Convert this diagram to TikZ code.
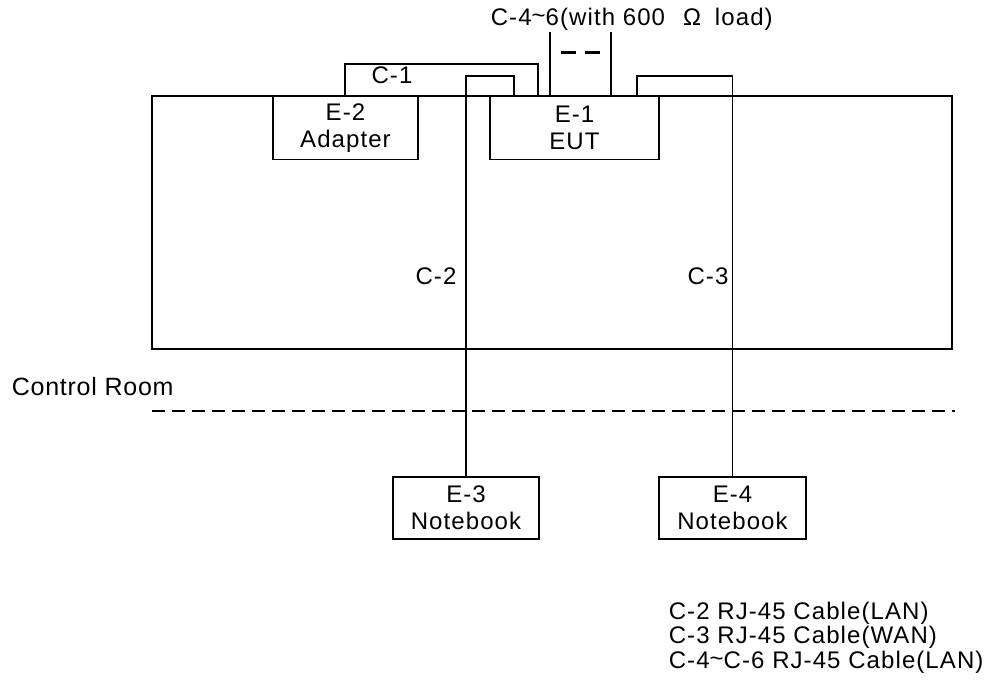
\documentclass[tikz,border=0pt]{standalone}
\usepackage{fontspec}
\setmainfont{Liberation Sans}[LetterSpace=4.5]
\newfontfamily\plainfont{Liberation Sans}[LetterSpace=3]
\begin{document}
\begin{tikzpicture}[x=0.5pt,y=-0.5pt,
  line width=0.85pt,
  box/.style={draw,minimum height=31.5pt,inner sep=0pt,align=center,font=\fontsize{12}{13.5}\selectfont},
  lbl/.style={inner sep=0pt,font=\fontsize{12}{13.5}\selectfont},
  cable/.style={line width=0.85pt}]
\useasboundingbox (0,0) rectangle (1007,686);
\node[draw,minimum width=400pt,minimum height=126.5pt,inner sep=0pt] (room) at (552,222.5) {};
\node[box,minimum width=72.5pt] (e2) at (345.5,128) {E-2\\Adapter};
\node[box,minimum width=84.5pt] (e1) at (574.5,128) {E-1\\EUT};
\node[box,minimum width=73pt,minimum height=31pt] (e3) at (466,508) {E-3\\Notebook};
\node[box,minimum width=73.5pt,minimum height=31pt] (e4) at (732.5,508) {E-4\\Notebook};
\node[lbl,anchor=west] (top) at (490,19) {C-4\raisebox{0.1ex}{\char`~}6(with 600\hspace{9pt}Ω\hspace{7pt}load)};
\node[lbl] (c1) at (392,75) {C-1};
\node[lbl] (c2) at (436,276) {C-2};
\node[lbl] (c3) at (708,276) {C-3};
\node[inner sep=0pt,anchor=west,font=\plainfont\fontsize{12.5}{13}\selectfont] (cr) at (11,387) {Control Room};
\node[lbl,anchor=north west,align=left,font=\fontsize{12}{12.25}\selectfont] (legend) at (668,601)
  {C-2 RJ-45 Cable(LAN)\\C-3 RJ-45 Cable(WAN)\\C-4\raisebox{0.1ex}{\char`~}C-6 RJ-45 Cable(LAN)};
% C-1
\draw[cable] ([xshift=36.5pt]e2.north west) |- ([xshift=24.5pt,yshift=16pt]e1.north west) -- ([xshift=24.5pt]e1.north west);
% C-2
\draw[cable] ([xshift=12.5pt]e1.north west) -- ++(0,-20) -| (e3.north);
% C-3
\draw[cable] ([xshift=-11.5pt]e1.north east) -- ++(0,-20) -| (e4.north);
% C-4~6
\draw[cable] ([xshift=30.5pt]e1.north west) -- ++(0,-64) coordinate (la);
\draw[cable] ([xshift=61pt]e1.north west) -- ++(0,-64) coordinate (lb);
\coordinate (da) at ([xshift=5.5pt,yshift=-10.5pt]la);
\coordinate (db) at ([xshift=-5.5pt,yshift=-10.5pt]lb);
\draw[line width=1.5pt,dash pattern=on 7.5pt off 4.5pt] (da) -- (db);
% control room boundary
\coordinate (dl) at (152,411);
\coordinate (dr) at (955,411);
\draw[line width=1.4pt,dash pattern=on 6.5pt off 3.5pt] (dl) -- (dr);
\end{tikzpicture}
\end{document}
